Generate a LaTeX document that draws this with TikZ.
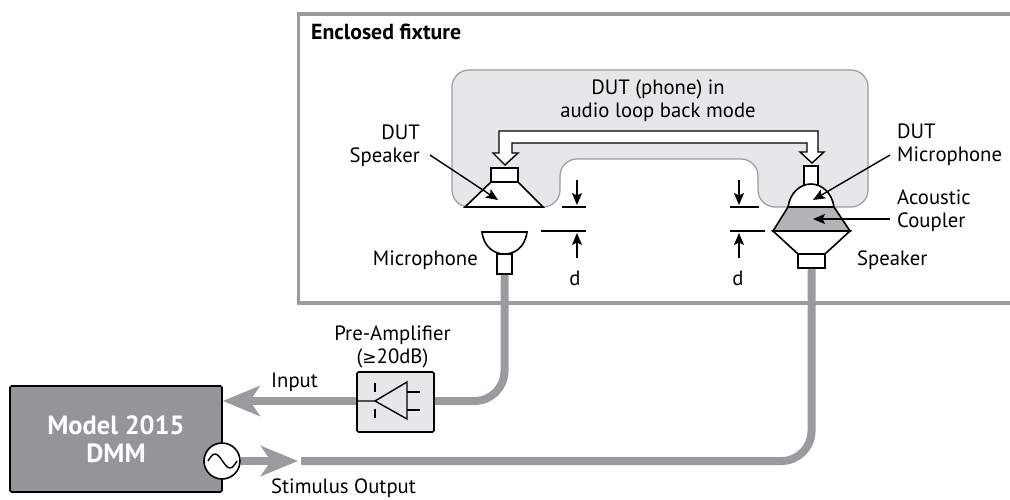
\documentclass[tikz,border=0pt]{standalone}
\usepackage{fontspec}
\setmainfont{PT Sans}
\newfontfamily\symbolfont{DejaVu Sans}
\usepackage{tikz}
\usetikzlibrary{arrows.meta}
\definecolor{cablegray}{HTML}{9A9B9E}
\definecolor{boxgray}{HTML}{939598}
\definecolor{phonegray}{HTML}{E6E7E8}
\definecolor{couplergray}{HTML}{B1B3B6}
\tikzset{
    partline/.style={
        draw=black, fill=white, line width=1.6pt, line join=miter
    },
    partbox/.style={
        partline, rectangle, inner sep=0pt
    },
    cable/.style={
        draw=cablegray, line width=8pt
    },
    cablearrow/.style={
        cable, -{Stealth[length=37pt,width=30pt,inset=10pt]}
    },
    callout/.style={
        line width=1.4pt, -{Stealth[length=12pt,width=10pt,inset=2.5pt]}
    },
    gapline/.style={
        line width=1.4pt
    },
    labeltext/.style={
        font=\fontsize{20.7}{23}\selectfont, inner sep=0pt, align=center
    },
    lefttext/.style={
        labeltext, anchor=west, align=left
    }
}

\begin{document}
\begin{tikzpicture}[x=1pt, y=-1pt]
    \useasboundingbox (0,0) rectangle (1010,500);
    % Fixture and phone body
    \draw[draw=cablegray, line width=3.5pt] (1010,14) -- (298.5,14) -- (298.5,303) -- (1010,303);
    \draw[draw=cablegray, fill=phonegray, line width=1.2pt, rounded corners=17pt]
        (452,70) -- (868,70) -- (868,207) -- (758,207) -- (758,159)
        -- (560,159) -- (560,207) -- (452,207) -- cycle;
    \node[lefttext, font=\fontsize{21.8}{24}\selectfont\bfseries] (fixturelabel) at (311,32) {Enclosed fixture};
    \node[labeltext] (phonelabel) at (658,101) {DUT (phone) in\\audio loop back mode};
    % Loop back path
    \draw[partline, line width=1.4pt]
        (505,165) -- (518,153) -- (512,153) -- (512,143) -- (807,143) -- (807,152) -- (800,152)
        -- (812,163) -- (824,152) -- (818,152) -- (818,131) -- (499,131) -- (499,153) -- (493,153) -- cycle;
    % DUT speaker
    \draw[partline] (465,207) -- (543,207) -- (518,182) -- (491,182) -- cycle;
    \node[partbox, minimum width=27pt, minimum height=14pt] (dutspkbox) at (504.5,175) {};
    % DUT microphone, coupler and speaker
    \node[partbox, minimum width=14pt, minimum height=19pt] (dutmicbox) at (811,175.5) {};
    \draw[partline] (788,207) .. controls (790,193) and (800,184) .. (811,184)
        .. controls (822,184) and (832,193) .. (834,207) -- cycle;
    \draw[partline, fill=couplergray] (788,207) -- (834,207) -- (850,231) -- (773,231) -- cycle;
    \draw[partline] (773,231) -- (850,231) -- (825,254) -- (798,254) -- cycle;
    \node[partbox, minimum width=27pt, minimum height=14pt] (spkbox) at (811.5,261) {};
    % Microphone
    \draw[partline] (482,232) -- (527,232) .. controls (525,248) and (514,254) .. (504.5,254)
        .. controls (495,254) and (484,248) .. (482,232) -- cycle;
    \node[partbox, minimum width=15pt, minimum height=20pt] (micbox) at (504.5,264) {};
    % Spacing marks
    \draw[gapline] (562,207) -- (586,207);
    \draw[gapline] (541,231) -- (586,231);
    \draw[gapline] (730,207) -- (759,207);
    \draw[gapline] (730,231) -- (765,231);
    \node[labeltext] (dleft) at (575,278) {d};
    \node[labeltext] (dright) at (738,278) {d};
    \coordinate (dlefttop) at (577,180);
    \coordinate (drighttop) at (739,180);
    \draw[callout] (dlefttop) -- (577,205);
    \draw[callout] (drighttop) -- (739,205);
    \draw[callout] (577,258) -- (577,233);
    \draw[callout] (739,258) -- (739,233);
    % Part labels
    \node[labeltext, anchor=east, align=right] (dutspklabel) at (420,145.5) {DUT\\Speaker};
    \node[lefttext] (dutmiclabel) at (897,144.5) {DUT\\Microphone};
    \node[lefttext] (couplerlabel) at (897,211) {Acoustic\\Coupler};
    \node[lefttext] (spklabel) at (857,260) {Speaker};
    \node[labeltext, anchor=east] (miclabel) at (478,260) {Microphone};
    \coordinate (dutspkfrom) at (430,155);
    \coordinate (dutspkto) at (498,200);
    \coordinate (dutmicfrom) at (890,155);
    \coordinate (dutmicto) at (813,200);
    \coordinate (couplerfrom) at (890,219);
    \coordinate (couplerto) at (813,219);
    \draw[callout] (dutspkfrom) -- (dutspkto);
    \draw[callout] (dutmicfrom) -- (dutmicto);
    \draw[callout] (couplerfrom) -- (couplerto);
    % Pre-amplifier
    \node[partbox, fill=phonegray, rounded corners=1.5pt, minimum width=77pt, minimum height=60pt] (preamp) at (395.5,402) {};
    \node[labeltext] (preamplabel) at (392.5,346.5) {Pre-Amplifier\\({\symbolfont\fontsize{17}{23}\selectfont ≥}20dB)};
    % DMM
    \node[partbox, fill=boxgray, rounded corners=1.5pt, minimum width=212pt, minimum height=106pt] (dmm) at (116,439) {};
    \node[labeltext, font=\fontsize{26.4}{28}\selectfont\bfseries, text=white] (dmmlabel) at (116,439) {Model 2015\\DMM};
    % Cables
    \draw[cable, rounded corners=30pt] (micbox.south) |- (preamp.east |- 0,401);
    \draw[cablearrow] (preamp.west |- 0,401) -- (dmm.east |- 0,401);
    \coordinate (stimtip) at (298,461);
    \coordinate (stimtail) at (301,461);
    \node[partbox, circle, minimum size=36pt] (source) at (222,461) {};
    \draw[cablearrow] (source.east) -- (stimtip);
    \draw[cable, rounded corners=30pt] (stimtail) -| (spkbox.south);
    \draw[line width=1.4pt] (208,461) sin (215,454) cos (222.5,461) sin (230,468) cos (237,461);
    % Amplifier symbol
    \draw[line width=1.4pt] (357,401) -- (375,401) -- (407,382) -- (407,419) -- (375,401);
    \draw[line width=1.4pt] (407,392) -- (420,392) (407,410) -- (420,410);
    \draw[line width=1.4pt] (375,383) -- (375,392) (375,409) -- (375,418);
    \node[lefttext] (inputlabel) at (271,382) {Input};
    \node[lefttext] (stimlabel) at (271,488) {Stimulus Output};
\end{tikzpicture}
\end{document}
